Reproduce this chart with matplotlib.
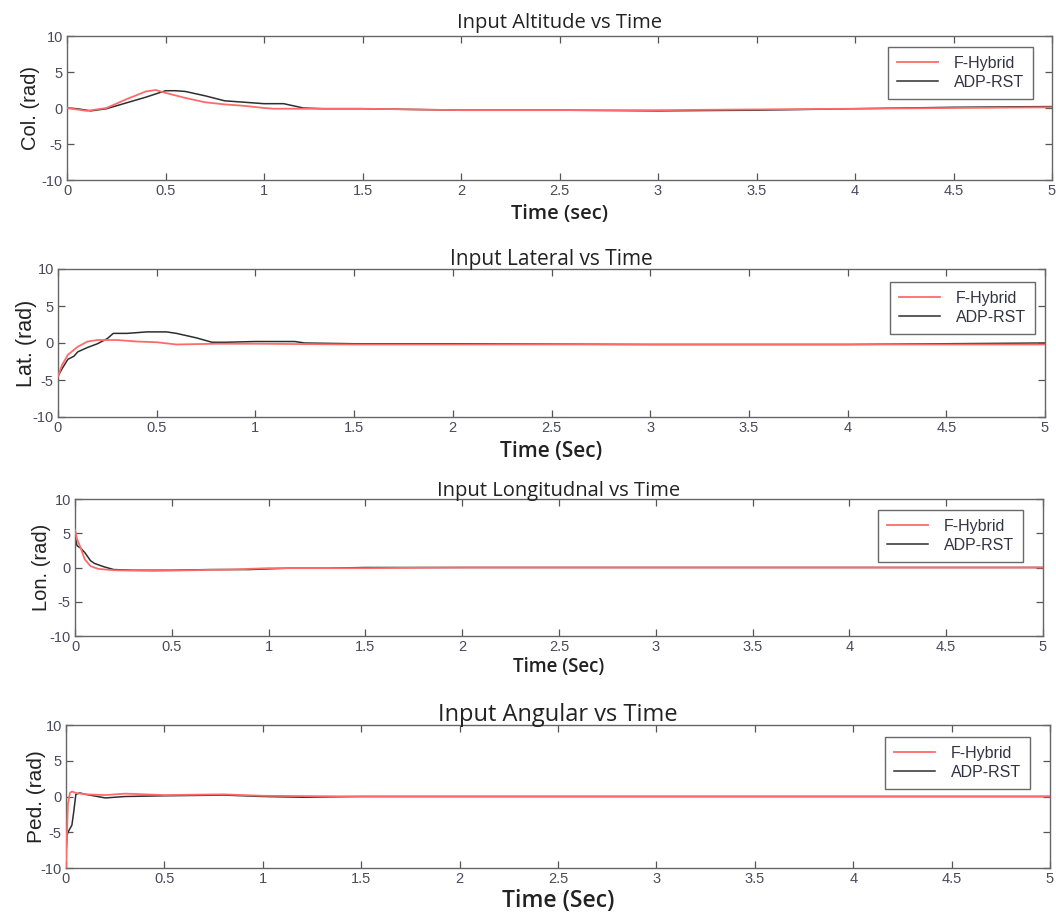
import matplotlib
matplotlib.use("Agg")
import matplotlib.pyplot as plt

plt.rcParams["axes.unicode_minus"] = False

# ---- data (time in sec, value in rad) ----
col_t_fh = [0, 0.1, 0.2, 0.3, 0.4, 0.45, 0.5, 0.6, 0.7, 0.8, 0.9, 1.0, 1.05, 1.2, 1.5, 2, 2.5, 3, 3.5, 4, 4.5, 5]
col_y_fh = [0, -0.4, 0, 1.2, 2.3, 2.5, 2.1, 1.4, 0.8, 0.5, 0.3, 0, -0.1, -0.1, -0.1, -0.3, -0.3, -0.3, -0.2, -0.1, 0, 0.1]
col_t_adp = [0, 0.05, 0.12, 0.2, 0.3, 0.4, 0.5, 0.55, 0.6, 0.7, 0.8, 0.9, 1.0, 1.1, 1.2, 1.3, 1.5, 2, 2.5, 3, 3.5, 4, 4.5, 5]
col_y_adp = [0, -0.1, -0.4, -0.1, 0.7, 1.5, 2.4, 2.4, 2.3, 1.7, 1.0, 0.8, 0.6, 0.6, 0, -0.1, -0.1, -0.3, -0.3, -0.4, -0.3, -0.1, 0.1, 0.2]

lat_t_fh = [0, 0.02, 0.05, 0.1, 0.15, 0.2, 0.3, 0.4, 0.5, 0.6, 0.8, 1, 1.5, 2, 3, 4, 5]
lat_y_fh = [-4.5, -3, -1.6, -0.5, 0.2, 0.4, 0.4, 0.2, 0.1, -0.2, -0.1, -0.1, -0.2, -0.2, -0.2, -0.2, -0.2]
lat_t_adp = [0, 0.02, 0.05, 0.08, 0.1, 0.15, 0.2, 0.25, 0.28, 0.35, 0.45, 0.55, 0.6, 0.7, 0.78, 0.85, 1, 1.2, 1.25, 1.5, 2, 3, 4, 5]
lat_y_adp = [-4.5, -3.5, -2.2, -1.8, -1.2, -0.6, -0.1, 0.6, 1.3, 1.3, 1.5, 1.5, 1.3, 0.7, 0.1, 0.1, 0.2, 0.2, 0, -0.1, -0.1, -0.2, -0.2, 0]

lon_t_fh = [0, 0.01, 0.03, 0.05, 0.08, 0.12, 0.2, 0.4, 0.6, 0.8, 1, 1.2, 1.5, 2, 3, 4, 5]
lon_y_fh = [5.5, 4.2, 2.8, 1.2, 0.2, -0.2, -0.4, -0.5, -0.4, -0.3, -0.1, -0.1, -0.1, 0, 0, 0, 0]
lon_t_adp = [0, 0.01, 0.03, 0.05, 0.08, 0.1, 0.15, 0.2, 0.3, 0.5, 0.7, 0.9, 1.1, 1.3, 1.5, 1.75, 2, 3, 5]
lon_y_adp = [4.8, 3.2, 2.8, 2.2, 1.0, 0.6, 0.1, -0.3, -0.4, -0.4, -0.3, -0.3, -0.1, -0.1, 0, 0, 0, 0, 0]

ped_t_fh = [0, 0.005, 0.01, 0.02, 0.03, 0.05, 0.1, 0.2, 0.3, 0.5, 0.8, 1, 1.5, 2, 3, 5]
ped_y_fh = [-10, -5, -1, 0.5, 0.7, 0.5, 0.3, 0.2, 0.4, 0.2, 0.3, 0.1, 0, 0, 0, 0]
ped_t_adp = [0, 0.005, 0.01, 0.03, 0.04, 0.05, 0.07, 0.1, 0.2, 0.3, 0.5, 0.8, 1, 1.2, 1.5, 2, 5]
ped_y_adp = [-8, -5.5, -5, -4, -2, 0.3, 0.5, 0.3, -0.2, 0, 0.1, 0.2, 0, -0.1, 0, 0, 0]

titles = ["Input Altitude vs Time", "Input Lateral vs Time", "Input Longitudnal vs Time", "Input Angular vs Time"]
ylabels = ["Col. (rad)", "Lat. (rad)", "Lon. (rad)", "Ped. (rad)"]
xlabels = ["Time (sec)", "Time (Sec)", "Time (Sec)", "Time (Sec)"]
series_names = ["F-Hybrid", "ADP-RST"]

panels = [
    (col_t_fh, col_y_fh, col_t_adp, col_y_adp),
    (lat_t_fh, lat_y_fh, lat_t_adp, lat_y_adp),
    (lon_t_fh, lon_y_fh, lon_t_adp, lon_y_adp),
    (ped_t_fh, ped_y_fh, ped_t_adp, ped_y_adp),
]

# axes boxes in pixels: left, top, right, bottom
W, H = 1056, 913
boxes = [(67, 36, 1052, 180), (58, 269, 1045, 417), (75, 499, 1043, 636), (66, 725, 1050, 868)]
# legend offsets from the axes' top-right corner, pixels (right, top)
leg_off = [(19, 11), (10, 13), (20, 11), (20, 12)]
title_sizes = [14.5, 15, 14.5, 17]
title_pads = [6, 3, 2, 3]
xlabel_sizes = [14.5, 15, 13.5, 16.5]
xlabel_pads = [4, 4, 2, 2]
ylabel_sizes = [14.5, 15.5, 14.5, 15]
ylabel_pads = [1, -3, -1, -4]

red = "#ff6b6b"
dark = "#2e2e2e"
tick_col = "#4a4a5a"

fig = plt.figure(figsize=(W / 100, H / 100), dpi=100)

for i, (tf, yf, ta, ya) in enumerate(panels):
    l, t, r, b = boxes[i]
    ax = fig.add_axes([l / W, 1 - b / H, (r - l) / W, (b - t) / H])
    ax.plot(tf, yf, color=red, lw=1.3, label=series_names[0], zorder=3)
    ax.plot(ta, ya, color=dark, lw=1.1, label=series_names[1], zorder=2)
    ax.set_xlim(0, 5)
    ax.set_ylim(-10, 10)
    ax.set_xticks([0, 0.5, 1, 1.5, 2, 2.5, 3, 3.5, 4, 4.5, 5])
    ax.set_xticklabels(["0", "0.5", "1", "1.5", "2", "2.5", "3", "3.5", "4", "4.5", "5"])
    ax.set_yticks([-10, -5, 0, 5, 10])
    ax.tick_params(direction="in", top=True, right=True, length=5, width=0.9,
                   color="#555555", labelcolor=tick_col, labelsize=10.5, pad=3)
    for lab in ax.get_xticklabels() + ax.get_yticklabels():
        lab.set_family("Liberation Sans")
    for s in ax.spines.values():
        s.set_color("#666666")
        s.set_linewidth(1.0)
    ax.set_title(titles[i], fontsize=title_sizes[i], family="Open Sans", color="#222222", pad=title_pads[i])
    ax.set_xlabel(xlabels[i], fontsize=xlabel_sizes[i], family="Open Sans", fontweight="semibold",
                  color="#222222", labelpad=xlabel_pads[i])
    ax.set_ylabel(ylabels[i], fontsize=ylabel_sizes[i], family="Liberation Sans", color="#222222",
                  labelpad=ylabel_pads[i])
    dx, dy = leg_off[i]
    leg = ax.legend(loc="upper right", bbox_to_anchor=(1 - dx / (r - l), 1 - dy / (b - t)),
                    borderaxespad=0, frameon=True, fancybox=False,
                    handlelength=2.6, handletextpad=1.0, borderpad=0.55, labelspacing=0.25,
                    prop={"family": "Liberation Sans", "size": 11.5})
    leg.get_frame().set_edgecolor("#444444")
    leg.get_frame().set_linewidth(1.0)
    for txt in leg.get_texts():
        txt.set_color("#333344")

fig.savefig("out.png", dpi=100)
plt.close(fig)
